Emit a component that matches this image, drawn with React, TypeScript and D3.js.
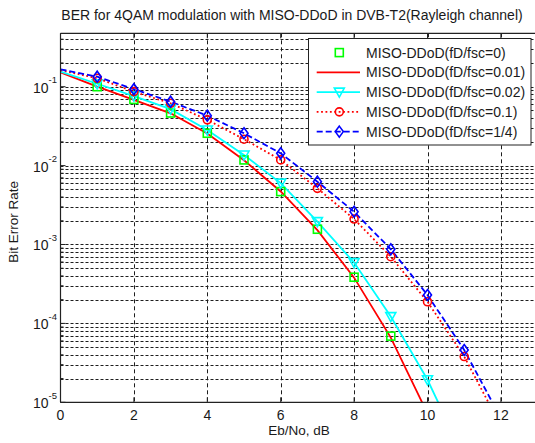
import React from 'react';
import * as d3 from 'd3';

const TITLE = 'BER for 4QAM modulation with MISO-DDoD in DVB-T2(Rayleigh channel)';
const X_LABEL = 'Eb/No, dB';
const Y_LABEL = 'Bit Error Rate';

const EBNO = [0, 1, 2, 3, 4, 5, 6, 7, 8, 9, 10, 11, 12];
const X_TICKS = [0, 2, 4, 6, 8, 10, 12];
const Y_DECADES = [-1, -2, -3, -4, -5];
const X_MAX = 13;
const Y_MIN = 1e-5;
const Y_MAX = 0.475;

// BER per Eb/No point (null = no sample)
const BER_FD_0 = [null, 0.1, 0.069, 0.0464, 0.0257, 0.0118, 0.00468, 0.00156, 3.85e-4, 6.9e-5, null, null, null];
const BER_FD_001 = [0.152, 0.1, 0.068, 0.046, 0.0255, 0.0117, 0.0047, 0.00152, 3.8e-4, 6.6e-5, 7.2e-6, null, null];
const BER_FD_002 = [0.155, 0.109, 0.076, 0.052, 0.0282, 0.0136, 0.006, 0.00195, 5.9e-4, 1.22e-4, 1.93e-5, 2e-6, null];
const BER_FD_01 = [0.162, 0.128, 0.0865, 0.0616, 0.038, 0.0216, 0.0118, 0.00515, 0.0021, 7e-4, 1.88e-4, 3.8e-5, 5e-6];
const BER_FD_025 = [0.166, 0.134, 0.093, 0.0646, 0.0429, 0.0257, 0.0143, 0.00625, 0.0026, 8.7e-4, 2.29e-4, 4.6e-5, 6.3e-6];

const LEGEND_LABELS = [
  'MISO-DDoD(fD/fsc=0)',
  'MISO-DDoD(fD/fsc=0.01)',
  'MISO-DDoD(fD/fsc=0.02)',
  'MISO-DDoD(fD/fsc=0.1)',
  'MISO-DDoD(fD/fsc=1/4)',
];

type MarkerKind = 'square' | 'tri' | 'circle' | 'diamond' | null;
interface Series {
  values: (number | null)[];
  color: string;
  dash: string | null;
  showLine: boolean;
  marker: MarkerKind;
  label: string;
}

const SERIES: Series[] = [
  { values: BER_FD_0, color: '#00ff00', dash: null, showLine: false, marker: 'square', label: LEGEND_LABELS[0] },
  { values: BER_FD_001, color: '#ff0000', dash: null, showLine: true, marker: null, label: LEGEND_LABELS[1] },
  { values: BER_FD_002, color: '#00ffff', dash: null, showLine: true, marker: 'tri', label: LEGEND_LABELS[2] },
  { values: BER_FD_01, color: '#ff0000', dash: '1.8,2.6', showLine: true, marker: 'circle', label: LEGEND_LABELS[3] },
  { values: BER_FD_025, color: '#0000ff', dash: '6,3', showLine: true, marker: 'diamond', label: LEGEND_LABELS[4] },
];

const W = 535;
const H = 443;
const FONT = '"Liberation Sans", Arial, sans-serif';
const TEXT = '#1a1a1a';

function Marker({ kind, x, y, color }: { kind: MarkerKind; x: number; y: number; color: string }) {
  const common = { fill: 'none', stroke: color, strokeWidth: 1.6 };
  if (kind === 'square') return <rect x={x - 4} y={y - 4} width={8} height={8} {...common} />;
  if (kind === 'tri') return <polygon points={`${x - 5},${y - 4} ${x + 5},${y - 4} ${x},${y + 5}`} {...common} />;
  if (kind === 'circle') return <circle cx={x} cy={y} r={4} {...common} />;
  if (kind === 'diamond') return <polygon points={`${x},${y - 5.5} ${x + 4},${y} ${x},${y + 5.5} ${x - 4},${y}`} {...common} />;
  return null;
}

export default function App() {
  const left = 60.5;
  const top = 33.3;
  const bottom = 402.3;
  const x = d3.scaleLinear().domain([0, X_MAX]).range([left, left + X_MAX * 36.7]);
  const y = d3.scaleLog().domain([Y_MIN, Y_MAX]).range([bottom, top]);
  const right = x(X_MAX);

  const minor: number[] = [];
  for (let d = -5; d <= -1; d++) {
    for (let m = 2; m <= 9; m++) {
      const v = m * Math.pow(10, d);
      if (v <= Y_MAX) minor.push(v);
    }
  }
  const major = Y_DECADES.map((d) => Math.pow(10, d));

  const lineGen = d3
    .line<{ x: number; v: number | null }>()
    .defined((p) => p.v !== null)
    .x((p) => x(p.x))
    .y((p) => y(p.v as number));

  const gridStyle = { stroke: '#1e1e1e', strokeWidth: 1, strokeDasharray: '3,2' };

  const legX = 308.5;
  const legY = 38.5;
  const legW = 222.5;
  const legH = 106.5;

  return (
    <svg width={W} height={H} style={{ position: 'absolute', left: 0, top: 0, background: '#fff' }}>
      <rect x={0} y={0} width={W} height={H} fill="#fff" />
      <defs>
        <clipPath id="plot-area">
          <rect x={left} y={top} width={right - left} height={bottom - top} />
        </clipPath>
      </defs>

      {/* grid */}
      {[...minor, ...major].map((v, i) => (
        <line key={`hg${i}`} x1={left} x2={right} y1={Math.round(y(v)) + 0.5} y2={Math.round(y(v)) + 0.5} {...gridStyle} />
      ))}
      {X_TICKS.filter((t) => t > 0).map((t) => (
        <line key={`vg${t}`} x1={Math.round(x(t)) + 0.5} x2={Math.round(x(t)) + 0.5} y1={top} y2={bottom} {...gridStyle} strokeDasharray="4,3" />
      ))}

      {/* ticks */}
      {X_TICKS.map((t) => (
        <g key={`xt${t}`} stroke="#222" strokeWidth={1}>
          <line x1={x(t)} x2={x(t)} y1={bottom} y2={bottom - 5} />
          <line x1={x(t)} x2={x(t)} y1={top} y2={top + 5} />
        </g>
      ))}
      {major.map((v, i) => (
        <line key={`ymt${i}`} x1={left} x2={left + 5} y1={y(v)} y2={y(v)} stroke="#222" />
      ))}
      {minor.map((v, i) => (
        <line key={`ynt${i}`} x1={left} x2={left + 3} y1={y(v)} y2={y(v)} stroke="#222" />
      ))}

      {/* data */}
      <g clipPath="url(#plot-area)">
        {SERIES.filter((s) => s.showLine).map((s, i) => (
          <path
            key={`l${i}`}
            d={lineGen(EBNO.map((e, j) => ({ x: e, v: s.values[j] }))) || ''}
            fill="none"
            stroke={s.color}
            strokeWidth={1.8}
            strokeDasharray={s.dash || undefined}
          />
        ))}
        {SERIES.map((s, i) =>
          s.marker
            ? EBNO.map((e, j) => {
                const v = s.values[j];
                if (v === null || e < 1 || e > 11) return null;
                return <Marker key={`m${i}-${j}`} kind={s.marker} x={x(e)} y={y(v)} color={s.color} />;
              })
            : null
        )}
      </g>

      {/* axes box */}
      <line x1={left} x2={left} y1={top} y2={bottom} stroke="#222" strokeWidth={1.2} />
      <line x1={left} x2={right} y1={bottom} y2={bottom} stroke="#222" strokeWidth={1.2} />
      <line x1={left} x2={right} y1={top} y2={top} stroke="#222" strokeWidth={1.2} />

      {/* tick labels */}
      {X_TICKS.map((t) => (
        <text key={`xl${t}`} x={x(t)} y={419.5} textAnchor="middle" fontFamily={FONT} fontSize={14} fill={TEXT}>
          {t}
        </text>
      ))}
      {Y_DECADES.map((d) => (
        <g key={`yl${d}`} fontFamily={FONT} fill={TEXT}>
          <text x={48.5} y={y(Math.pow(10, d)) + 6} textAnchor="end" fontSize={14}>
            10
          </text>
          <text x={48.5} y={y(Math.pow(10, d)) - 3.5} fontSize={9.5}>
            {d}
          </text>
        </g>
      ))}

      {/* labels */}
      <text x={292} y={20} textAnchor="middle" fontFamily={FONT} fontSize={14} fill={TEXT}>
        {TITLE}
      </text>
      <text x={(left + right) / 2} y={435} textAnchor="middle" fontFamily={FONT} fontSize={13.5} fill={TEXT}>
        {X_LABEL}
      </text>
      <text
        transform={`translate(18,${(top + bottom) / 2 + 4}) rotate(-90)`}
        textAnchor="middle"
        fontFamily={FONT}
        fontSize={13.5}
        fill={TEXT}
      >
        {Y_LABEL}
      </text>

      {/* legend */}
      <rect x={legX} y={legY} width={legW} height={legH} fill="#fff" stroke="#222" strokeWidth={1} />
      {SERIES.map((s, i) => {
        const cy = 52.6 + i * 19.75;
        return (
          <g key={`lg${i}`}>
            {s.showLine && (
              <line
                x1={316.7}
                x2={360}
                y1={cy}
                y2={cy}
                stroke={s.color}
                strokeWidth={1.8}
                strokeDasharray={s.dash || undefined}
              />
            )}
            {s.marker && <Marker kind={s.marker} x={339.3} y={cy} color={s.color} />}
            <text x={366} y={cy + 5} fontFamily={FONT} fontSize={14} fill={TEXT}>
              {s.label}
            </text>
          </g>
        );
      })}
    </svg>
  );
}
